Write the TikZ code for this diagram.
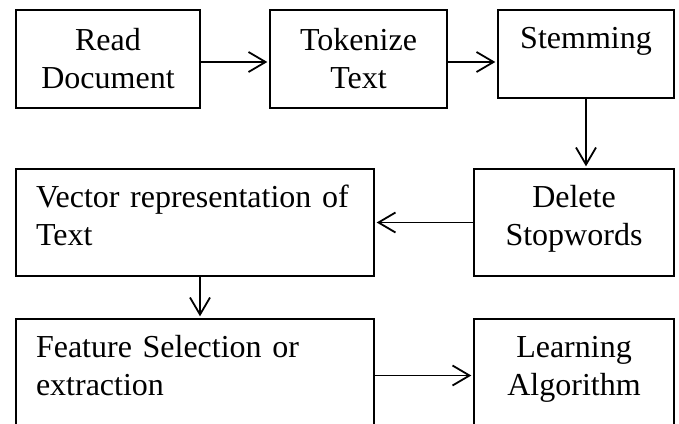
\documentclass[tikz,border=0pt]{standalone}
\usepackage{fontspec}
\setmainfont{Liberation Serif}
\usetikzlibrary{arrows.meta}
\tikzset{
  box/.style={draw, line width=1.4pt, inner sep=0pt, align=center,
    font=\fontsize{32}{38}\selectfont, text height=22pt},
  leftbox/.style={box, align=left, inner xsep=20pt},
  flow/.style={line width=1.8pt, -{Straight Barb[length=17pt,width=20pt,line width=1.8pt]}, shorten >=2pt}
}
\begin{document}
\begin{tikzpicture}[x=1pt,y=-1pt]
\clip (0,0) rectangle (679,423);
\node[box, minimum width=184pt, minimum height=98pt, text width=170pt, text depth=40pt] (read) at (108,59) {Read\\Document};
\node[box, minimum width=177pt, minimum height=98pt, text width=165pt, text depth=40pt] (token) at (358.5,59) {Tokenize\\Text};
\node[box, minimum width=176pt, minimum height=88pt, text width=165pt, text depth=34pt] (stem) at (586,54) {Stemming};
\node[box, minimum width=200pt, minimum height=107pt, text width=185pt, text depth=53pt] (del) at (574,222.5) {Delete\\Stopwords};
\node[leftbox, minimum width=358pt, minimum height=107pt, text width=318pt, text depth=53pt] (vec) at (195,222.5) {Vector representation of\\Text};
\node[leftbox, minimum width=358pt, minimum height=107pt, text width=318pt, text depth=53pt] (feat) at (195,372.5) {Feature Selection or\\extraction};
\node[box, minimum width=200pt, minimum height=107pt, text width=185pt, text depth=53pt] (learn) at (574,372.5) {Learning\\Algorithm};
\draw[flow] ([yshift=-3pt]read.east) -- ([yshift=-3pt]token.west);
\draw[flow] ([yshift=-3pt]token.east) -- ([yshift=-3pt]token.east -| stem.west);
\draw[flow] (stem.south) -- (stem.south |- del.north);
\draw[flow] (del.west) -- (vec.east);
\draw[flow] ([xshift=5pt]vec.south) -- ([xshift=5pt]vec.south |- feat.north);
\draw[flow] ([yshift=-3pt]feat.east) -- ([yshift=-3pt]learn.west);
\end{tikzpicture}
\end{document}
